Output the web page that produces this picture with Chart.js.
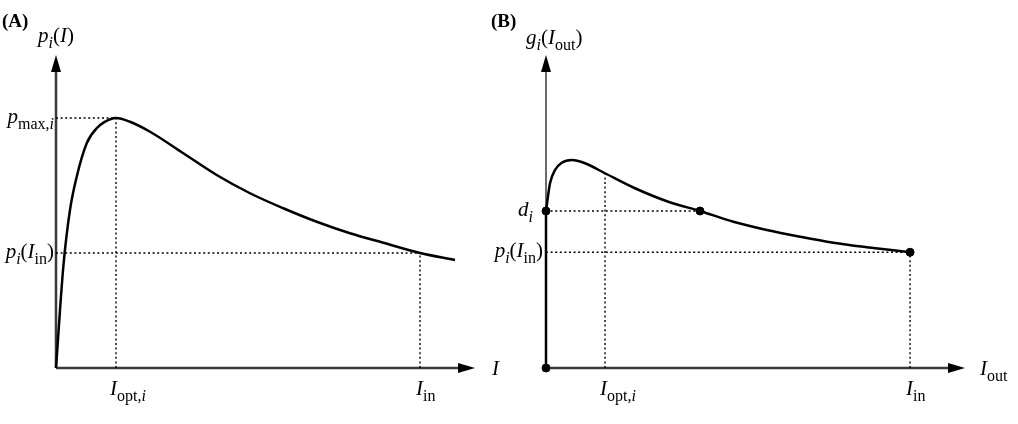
<!DOCTYPE html>
<html>
<head>
<meta charset="utf-8">
<script src="https://cdn.jsdelivr.net/npm/chart.js@4.4.1/dist/chart.umd.min.js"></script>
<style>
  html, body { margin: 0; padding: 0; background: #fff; }
  #wrap { position: relative; width: 1018px; height: 424px; }
  canvas { position: absolute; top: 0; }
  #cA { left: 0; }
  #cB { left: 480px; }
</style>
</head>
<body>
<div id="wrap">
  <canvas id="cA" width="509" height="424"></canvas>
  <canvas id="cB" width="538" height="424"></canvas>
</div>
<script>
// panel A : p_i(I)
const curveAx = [0, 0.122, 0.233, 0.345, 0.512, 0.678, 0.955, 1.0, 1.233, 1.567, 2.122, 2.678, 3.233, 3.788, 4.345, 4.9, 5.455, 6.067, 6.65];
const curveAy = [0, 0.405, 0.632, 0.765, 0.899, 0.959, 0.999, 1.0, 0.985, 0.945, 0.859, 0.772, 0.699, 0.639, 0.585, 0.539, 0.501, 0.46, 0.432];
const iOptA = 1.0, pMaxA = 1.0, iInA = 6.067, pInA = 0.46;

// panel B : g_i(I_out)
const curveBx = [0, 0.068, 0.153, 0.266, 0.436, 0.661, 1.0, 1.508, 2.073, 2.61, 3.175, 3.741, 4.305, 4.869, 5.436, 6.169];
const curveBy = [0.628, 0.739, 0.792, 0.821, 0.832, 0.819, 0.779, 0.719, 0.665, 0.628, 0.585, 0.552, 0.525, 0.501, 0.483, 0.463];
const iOptB = 1.0, dB = 0.628, dPointX = 2.61, iInB = 6.169, pInB = 0.463;
const gOptB = 0.779;

const SERIF = '"Liberation Serif", "DejaVu Serif", serif';
const OFF_B = 480; // left edge of panel B canvas

function pts(xs, ys) {
    return xs.map(function (x, i) { return { x: x, y: ys[i] }; });
}

function dotted(data) {
    return {
        data: data, showLine: true, borderColor: '#000', borderWidth: 1.4,
        borderDash: [2, 2.6], pointRadius: 0, clip: false, order: 3
    };
}

// rich text: parts = [text, style] ; style: '' upright, 'i' italic, 's' sub, 'si' italic sub
function drawRich(ctx, x, y, parts, align) {
    const big = 21, small = 16;
    function font(st) {
        const it = st.indexOf('i') >= 0 ? 'italic ' : '';
        const sz = st.indexOf('s') >= 0 ? small : big;
        return it + sz + 'px ' + SERIF;
    }
    let total = 0;
    parts.forEach(function (p) { ctx.font = font(p[1]); total += ctx.measureText(p[0]).width; });
    let cx = align === 'right' ? x - total : align === 'center' ? x - total / 2 : x;
    ctx.fillStyle = '#000';
    ctx.textBaseline = 'alphabetic';
    ctx.textAlign = 'left';
    parts.forEach(function (p) {
        ctx.font = font(p[1]);
        const dy = p[1].indexOf('s') >= 0 ? 6 : 0;
        ctx.fillText(p[0], cx, y + dy);
        cx += ctx.measureText(p[0]).width;
    });
}

function arrow(ctx, x, y, dir) {
    const L = 17, W = 5;
    ctx.beginPath();
    if (dir === 'up') {
        ctx.moveTo(x, y); ctx.lineTo(x - W, y + L); ctx.lineTo(x + W, y + L);
    } else {
        ctx.moveTo(x, y); ctx.lineTo(x - L, y - W); ctx.lineTo(x - L, y + W);
    }
    ctx.closePath();
    ctx.fillStyle = '#000';
    ctx.fill();
}

function axesPlugin(yAxisWidth) {
    return {
        id: 'axes',
        beforeDatasetsDraw: function (chart) {
            const ctx = chart.ctx, a = chart.chartArea;
            ctx.save();
            ctx.strokeStyle = '#3a3a3a';
            ctx.lineWidth = 2.5;
            ctx.beginPath();
            ctx.moveTo(a.left, a.bottom); ctx.lineTo(a.right - 10, a.bottom);
            ctx.stroke();
            ctx.lineWidth = yAxisWidth;
            ctx.beginPath();
            ctx.moveTo(a.left, a.bottom); ctx.lineTo(a.left, a.top + 10);
            ctx.stroke();
            arrow(ctx, a.left, a.top, 'up');
            arrow(ctx, a.right, a.bottom, 'right');
            ctx.restore();
        }
    };
}

function labelPlugin(drawFn) {
    return {
        id: 'labels',
        afterDraw: function (chart) {
            const ctx = chart.ctx;
            ctx.save();
            drawFn(ctx, chart.scales.x, chart.scales.y, chart.chartArea);
            ctx.restore();
        }
    };
}

function baseOptions(xmax, padLeft, padRight) {
    return {
        responsive: false,
        animation: false,
        events: [],
        layout: { padding: { left: padLeft, right: padRight, top: 55, bottom: 56 } },
        plugins: { legend: { display: false }, tooltip: { enabled: false } },
        scales: {
            x: { type: 'linear', min: 0, max: xmax, display: false },
            y: { type: 'linear', min: 0, max: 1.252, display: false }
        }
    };
}

// ---------- panel A ----------
new Chart(document.getElementById('cA').getContext('2d'), {
    type: 'scatter',
    data: {
        datasets: [
            {
                data: pts(curveAx, curveAy), showLine: true, borderColor: '#000',
                borderWidth: 2.5, pointRadius: 0, cubicInterpolationMode: 'monotone',
                clip: false, order: 1
            },
            dotted([{ x: 0, y: pMaxA }, { x: iOptA, y: pMaxA }]),
            dotted([{ x: iOptA, y: 0 }, { x: iOptA, y: pMaxA }]),
            dotted([{ x: 0, y: pInA }, { x: iInA, y: pInA }]),
            dotted([{ x: iInA, y: 0 }, { x: iInA, y: pInA }])
        ]
    },
    options: baseOptions(6.983, 56, 34),
    plugins: [axesPlugin(2.5), labelPlugin(function (ctx, xs, ys, a) {
        ctx.font = 'bold 19px ' + SERIF;
        ctx.fillStyle = '#000';
        ctx.fillText('(A)', 2, 27);
        drawRich(ctx, a.left, 42, [['p', 'i'], ['i', 'si'], ['(', ''], ['I', 'i'], [')', '']], 'center');
        drawRich(ctx, a.left - 2, ys.getPixelForValue(pMaxA) + 5, [['p', 'i'], ['max,', 's'], ['i', 'si']], 'right');
        drawRich(ctx, a.left - 2, ys.getPixelForValue(pInA) + 5, [['p', 'i'], ['i', 'si'], ['(', ''], ['I', 'i'], ['in', 's'], [')', '']], 'right');
        drawRich(ctx, xs.getPixelForValue(iOptA) - 6, 395, [['I', 'i'], ['opt,', 's'], ['i', 'si']], 'left');
        drawRich(ctx, xs.getPixelForValue(iInA) - 4, 395, [['I', 'i'], ['in', 's']], 'left');
        drawRich(ctx, 492, 375, [['I', 'i']], 'left');
    })]
});

// ---------- panel B ----------
new Chart(document.getElementById('cB').getContext('2d'), {
    type: 'scatter',
    data: {
        datasets: [
            {
                data: pts(curveBx, curveBy), showLine: true, borderColor: '#000',
                borderWidth: 2.5, pointRadius: 0, cubicInterpolationMode: 'monotone',
                clip: false, order: 1
            },
            {
                data: [{ x: 0, y: 0 }, { x: 0, y: dB }], showLine: true, borderColor: '#000',
                borderWidth: 2.5, pointRadius: 0, clip: false, order: 1
            },
            {
                data: [{ x: 0, y: 0 }, { x: 0, y: dB }, { x: dPointX, y: dB }, { x: iInB, y: pInB }],
                showLine: false, pointRadius: 4, pointBackgroundColor: '#000',
                pointBorderColor: '#000', clip: false, order: 0
            },
            dotted([{ x: 0, y: dB }, { x: dPointX, y: dB }]),
            dotted([{ x: iOptB, y: 0 }, { x: iOptB, y: gOptB }]),
            dotted([{ x: 0, y: pInB }, { x: iInB, y: pInB }]),
            dotted([{ x: iInB, y: 0 }, { x: iInB, y: pInB }])
        ]
    },
    options: baseOptions(7.10, 546 - OFF_B, 53),
    plugins: [axesPlugin(1.5), labelPlugin(function (ctx, xs, ys, a) {
        ctx.font = 'bold 19px ' + SERIF;
        ctx.fillStyle = '#000';
        ctx.fillText('(B)', 491 - OFF_B, 27);
        drawRich(ctx, 526 - OFF_B, 44, [['g', 'i'], ['i', 'si'], ['(', ''], ['I', 'i'], ['out', 's'], [')', '']], 'left');
        drawRich(ctx, a.left - 13, ys.getPixelForValue(dB) + 5, [['d', 'i'], ['i', 'si']], 'right');
        drawRich(ctx, a.left - 3, ys.getPixelForValue(pInB) + 5, [['p', 'i'], ['i', 'si'], ['(', ''], ['I', 'i'], ['in', 's'], [')', '']], 'right');
        drawRich(ctx, xs.getPixelForValue(iOptB) - 5, 395, [['I', 'i'], ['opt,', 's'], ['i', 'si']], 'left');
        drawRich(ctx, xs.getPixelForValue(iInB) - 4, 395, [['I', 'i'], ['in', 's']], 'left');
        drawRich(ctx, 980 - OFF_B, 375, [['I', 'i'], ['out', 's']], 'left');
    })]
});
</script>
</body>
</html>
